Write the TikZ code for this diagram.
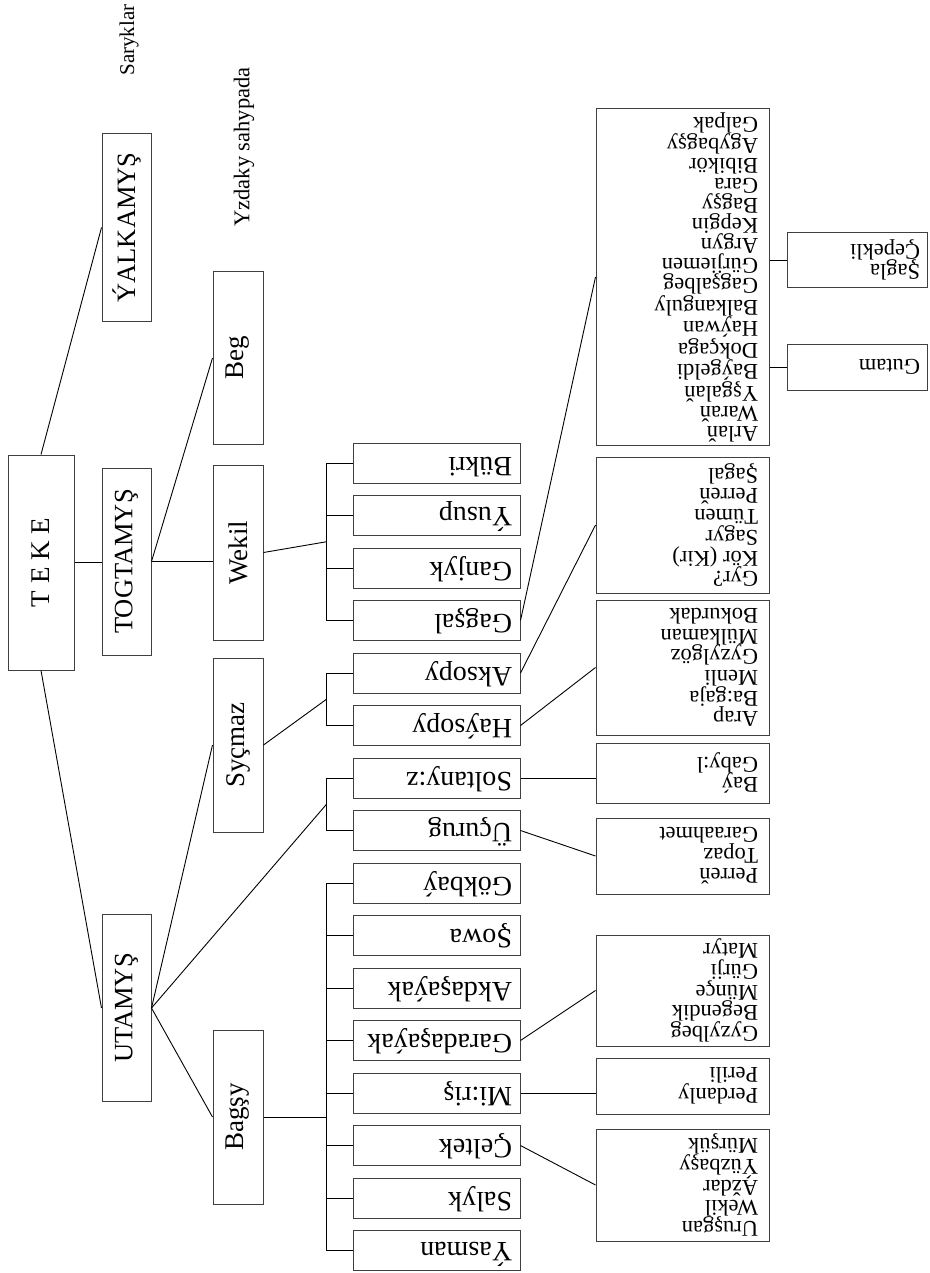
\documentclass[tikz,border=0pt]{standalone}
\usepackage{fontspec}
\setmainfont{Liberation Serif}
\usetikzlibrary{calc}
\newcommand{\fsz}[2]{\fontsize{#1}{#2}\selectfont}
\newcommand{\up}[1]{\rotatebox{90}{#1}}
\newcommand{\inv}[1]{\rotatebox{180}{\makebox[151pt][l]{\strut #1}}}
\newcommand{\invlist}[2]{\rotatebox{180}{\parbox{#1}{\raggedright #2}}}
\begin{document}
\begin{tikzpicture}[x=1pt,y=-1pt,
  box/.style={draw=black!75, line width=1pt, inner sep=0pt, fill=white},
  lvone/.style={box, minimum width=49pt, minimum height=187pt, font=\fsz{26.5}{30}},
  lvtwo/.style={box, minimum width=50pt, minimum height=174pt, font=\fsz{27}{30}},
  lvthree/.style={box, minimum width=167pt, minimum height=40pt, font=\fsz{28}{30}},
  lvfour/.style={box, minimum width=173pt, font=\fsz{22.5}{20.7}},
  lvfive/.style={box, minimum width=140pt, font=\fsz{22.5}{20.7}},
  conn/.style={draw=black, line width=0.9pt},
  note/.style={inner sep=0pt}
]
\fill[white] (0,0) rectangle (929,1273);
\useasboundingbox (0,0) rectangle (929,1273);

% notes
\node[note, font=\fsz{21}{24}] (saryk) at (129,40) {\up{Saryklar}};
\node[note, font=\fsz{22.5}{26}] (yzd) at (244,147) {\up{Yzdaky sahypada}};

% level 1
\node[lvone, minimum width=66pt, minimum height=215pt, font=\fsz{27}{30}] (teke) at (41,562.5) {\up{T E K E}};
\node[lvone] (yal) at (126.5,227.5) {\up{ÝALKAMYŞ}};
\node[lvone] (tog) at (126.5,561.5) {\up{TOGTAMYŞ}};
\node[lvone] (uta) at (126.5,1008) {\up{UTAMYŞ}};

% level 2
\node[lvtwo, minimum height=173pt] (beg) at (238,358) {\up{Beg}};
\node[lvtwo, minimum height=175pt] (wek) at (238,552.5) {\up{Wekil}};
\node[lvtwo] (syc) at (238,745) {\up{Syçmaz}};
\node[lvtwo] (bag) at (238,1117) {\up{Bagşy}};

% level 3
\node[lvthree] (bukri) at (436.5,463) {\inv{Bükri}};
\node[lvthree] (yusup) at (436.5,515.5) {\inv{Ýusup}};
\node[lvthree] (ganjyk) at (436.5,568) {\inv{Ganjyk}};
\node[lvthree] (gagsal) at (436.5,620.5) {\inv{Gagşal}};
\node[lvthree] (aksopy) at (436.5,673) {\inv{Aksopy}};
\node[lvthree] (haysopy) at (436.5,725.5) {\inv{Haýsopy}};
\node[lvthree] (soltany) at (436.5,778) {\inv{Soltany:z}};
\node[lvthree] (ucurug) at (436.5,830.5) {\inv{Üçurug}};
\node[lvthree] (gokbay) at (436.5,883) {\inv{Gökbaý}};
\node[lvthree] (sowa) at (436.5,935.5) {\inv{Şowa}};
\node[lvthree] (akdas) at (436.5,988) {\inv{Akdaşaýak}};
\node[lvthree] (garadas) at (436.5,1040.5) {\inv{Garadaşaýak}};
\node[lvthree] (miris) at (436.5,1093) {\inv{Mi:riş}};
\node[lvthree] (celtek) at (436.5,1145.5) {\inv{Çeltek}};
\node[lvthree] (salyk) at (436.5,1198) {\inv{Salyk}};
\node[lvthree] (yasman) at (436.5,1250.5) {\inv{Ýasman}};

% level 4
\node[lvfour, minimum height=336pt, font=\fsz{22.5}{20}] (la) at (682.5,277) {\invlist{151pt}{Arlaň\\Waraň\\Yşgalaň\\Baýgeldi\\Dokçaga\\Haýwan\\Balkanguly\\Gagşalbeg\\Gürjiemen\\Argyn\\Kepgin\\Bagşy\\Gara\\Bibikör\\Agybagşy\\Galpak}};
\node[lvfour, minimum height=136pt] (lb) at (682.5,525) {\invlist{151pt}{Gyr?\\Kör (Kir)\\Sagyr\\Tümen\\Perreň\\Şagal}};
\node[lvfour, minimum height=135pt] (lc) at (682.5,667.5) {\invlist{151pt}{Arap\\Ba:gaja\\Menli\\Gyzylgöz\\Mülkaman\\Bokurdak}};
\node[lvfour, minimum height=60pt] (ld) at (682.5,773) {\invlist{151pt}{Baý\\Gaby:l}};
\node[lvfour, minimum height=76pt] (le) at (682.5,856) {\invlist{151pt}{Perreň\\Topaz\\Garaahmet}};
\node[lvfour, minimum height=111pt] (lf) at (682.5,990.5) {\invlist{151pt}{Gyzylbeg\\Begendik\\Münçe\\Gürji\\Matyr}};
\node[lvfour, minimum height=56pt] (lg) at (682.5,1086) {\invlist{151pt}{Perdanly\\Perili}};
\node[lvfour, minimum height=112pt] (lh) at (682.5,1185) {\invlist{151pt}{Uruşgan\\Wekil\\Aždar\\Ýüzbaşy\\Mürşük}};

% level 5
\node[lvfive, minimum height=46pt] (gutam) at (857,367) {\invlist{126pt}{Gutam}};
\node[lvfive, minimum height=54pt] (sagla) at (857,260) {\invlist{126pt}{Şagla\\Çepekli}};

% connectors level 1
\draw[conn] (teke.north) -- (yal.west);
\draw[conn] (teke.east) -- (teke.east -| tog.west);
\draw[conn] (teke.south) -- (uta.west);

% TOGTAMYS
\draw[conn] (tog.east) -- (beg.west);
\draw[conn] (tog.east) -- (tog.east -| wek.west);

% Wekil bracket
\coordinate (brW) at ($(bukri.west)!0.5!(gagsal.west)+(-26,0)$);
\draw[conn] (bukri.west) -- ++(-26,0) |- (gagsal.west);
\draw[conn] (yusup.west) -- ++(-26,0);
\draw[conn] (ganjyk.west) -- ++(-26,0);
\draw[conn] (wek.east) -- (brW);

% Sycmaz bracket
\coordinate (brS) at ($(aksopy.west)!0.5!(haysopy.west)+(-26,0)$);
\draw[conn] (aksopy.west) -- ++(-26,0) |- (haysopy.west);
\draw[conn] (syc.east) -- (brS);

% UTAMYS
\coordinate (brU) at ($(soltany.west)!0.5!(ucurug.west)+(-26,0)$);
\draw[conn] (soltany.west) -- ++(-26,0) |- (ucurug.west);
\draw[conn] (uta.east) -- (brU);
\draw[conn] (uta.east) -- (syc.west);
\draw[conn] (uta.east) -- (bag.west);

% Bagsy bracket
\coordinate (brB) at ($(gokbay.west)+(-26,0)$);
\draw[conn] (gokbay.west) -- ++(-26,0) |- (yasman.west);
\draw[conn] (sowa.west) -- ++(-26,0);
\draw[conn] (akdas.west) -- ++(-26,0);
\draw[conn] (garadas.west) -- ++(-26,0);
\draw[conn] (miris.west) -- ++(-26,0);
\draw[conn] (celtek.west) -- ++(-26,0);
\draw[conn] (salyk.west) -- ++(-26,0);
\draw[conn] (bag.east) -- (bag.east -| brB);

% level 3 to level 4
\draw[conn] (gagsal.east) -- (la.west);
\draw[conn] (aksopy.east) -- (lb.west);
\draw[conn] (haysopy.east) -- (lc.west);
\draw[conn] (soltany.east) -- (soltany.east -| ld.west);
\draw[conn] (ucurug.east) -- (le.west);
\draw[conn] (garadas.east) -- (lf.west);
\draw[conn] (miris.east) -- (miris.east -| lg.west);
\draw[conn] (celtek.east) -- (lh.west);

% level 4 to level 5
\draw[conn] (la.east |- gutam.west) -- (gutam.west);
\draw[conn] (la.east |- sagla.west) -- (sagla.west);
\end{tikzpicture}
\end{document}
